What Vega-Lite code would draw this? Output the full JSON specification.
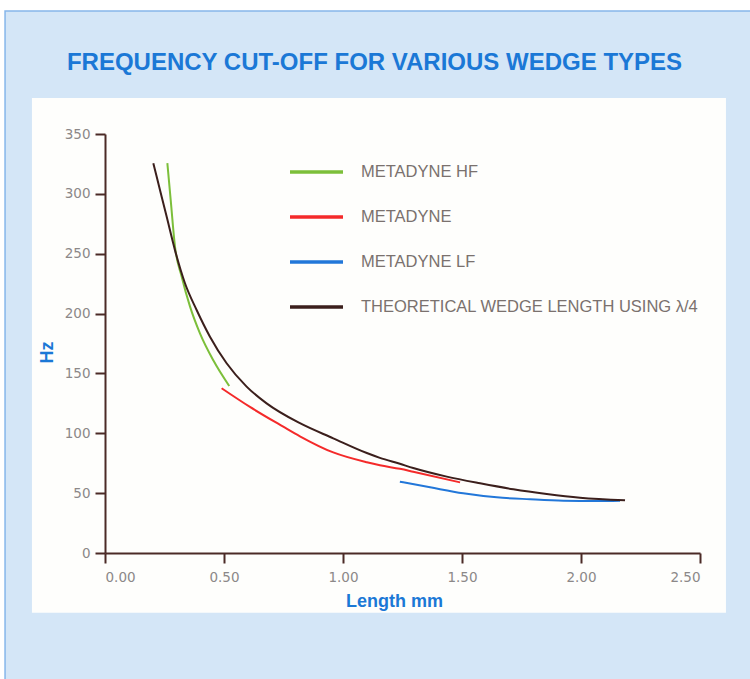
{
  "$schema": "https://vega.github.io/schema/vega-lite/v6.json",
  "width": 595,
  "height": 419,
  "autosize": "none",
  "padding": {"left": 105, "top": 134, "right": 50, "bottom": 126},
  "background": "#ffffff",
  "title": {
    "text": "FREQUENCY CUT-OFF FOR VARIOUS WEDGE TYPES",
    "font": "Liberation Sans",
    "fontWeight": "bold",
    "fontSize": 24,
    "color": "#1b78d6",
    "anchor": "middle",
    "frame": "group",
    "dx": -28,
    "offset": 26,
    "dy": 110,
    "baseline": "alphabetic",
    "zindex": 2
  },
  "config": {
    "view": {"stroke": null},
    "axis": {
      "domainColor": "#4b2a26",
      "domainWidth": 2,
      "tickColor": "#4b2a26",
      "tickWidth": 2,
      "tickSize": 10,
      "grid": false,
      "labelColor": "#8c8888",
      "labelFont": "DejaVu Sans",
      "labelFontSize": 13.5,
      "titleColor": "#1b78d6",
      "titleFont": "Liberation Sans",
      "titleFontWeight": "bold",
      "titleFontSize": 18
    },
    "legend": {"zindex": 2}
  },
  "data": {
    "values": [
      {"series": "METADYNE HF", "L": 0.262, "Hz": 325.6},
      {"series": "METADYNE HF", "L": 0.276, "Hz": 295},
      {"series": "METADYNE HF", "L": 0.294, "Hz": 256},
      {"series": "METADYNE HF", "L": 0.322, "Hz": 231},
      {"series": "METADYNE HF", "L": 0.357, "Hz": 206},
      {"series": "METADYNE HF", "L": 0.399, "Hz": 183.5},
      {"series": "METADYNE HF", "L": 0.455, "Hz": 161},
      {"series": "METADYNE HF", "L": 0.522, "Hz": 139.5},
      {"series": "METADYNE", "L": 0.49, "Hz": 137.6},
      {"series": "METADYNE", "L": 0.609, "Hz": 122},
      {"series": "METADYNE", "L": 0.749, "Hz": 105.5},
      {"series": "METADYNE", "L": 0.819, "Hz": 97.5},
      {"series": "METADYNE", "L": 0.959, "Hz": 84},
      {"series": "METADYNE", "L": 1.1, "Hz": 75.8},
      {"series": "METADYNE", "L": 1.155, "Hz": 73.3},
      {"series": "METADYNE", "L": 1.239, "Hz": 70.3},
      {"series": "METADYNE", "L": 1.295, "Hz": 67.9},
      {"series": "METADYNE", "L": 1.492, "Hz": 59},
      {"series": "METADYNE LF", "L": 1.239, "Hz": 59.6},
      {"series": "METADYNE LF", "L": 1.366, "Hz": 54.9},
      {"series": "METADYNE LF", "L": 1.505, "Hz": 49.9},
      {"series": "METADYNE LF", "L": 1.646, "Hz": 46.5},
      {"series": "METADYNE LF", "L": 1.786, "Hz": 44.9},
      {"series": "METADYNE LF", "L": 1.926, "Hz": 43.7},
      {"series": "METADYNE LF", "L": 2.066, "Hz": 43.4},
      {"series": "METADYNE LF", "L": 2.164, "Hz": 43.7},
      {"series": "THEORETICAL WEDGE LENGTH USING λ/4", "L": 0.203, "Hz": 325.6},
      {"series": "THEORETICAL WEDGE LENGTH USING λ/4", "L": 0.231, "Hz": 303.3},
      {"series": "THEORETICAL WEDGE LENGTH USING λ/4", "L": 0.259, "Hz": 281},
      {"series": "THEORETICAL WEDGE LENGTH USING λ/4", "L": 0.294, "Hz": 253},
      {"series": "THEORETICAL WEDGE LENGTH USING λ/4", "L": 0.336, "Hz": 225.3},
      {"series": "THEORETICAL WEDGE LENGTH USING λ/4", "L": 0.385, "Hz": 203},
      {"series": "THEORETICAL WEDGE LENGTH USING λ/4", "L": 0.441, "Hz": 180.7},
      {"series": "THEORETICAL WEDGE LENGTH USING λ/4", "L": 0.511, "Hz": 158.5},
      {"series": "THEORETICAL WEDGE LENGTH USING λ/4", "L": 0.595, "Hz": 139},
      {"series": "THEORETICAL WEDGE LENGTH USING λ/4", "L": 0.679, "Hz": 125},
      {"series": "THEORETICAL WEDGE LENGTH USING λ/4", "L": 0.819, "Hz": 108.4},
      {"series": "THEORETICAL WEDGE LENGTH USING λ/4", "L": 0.959, "Hz": 95.8},
      {"series": "THEORETICAL WEDGE LENGTH USING λ/4", "L": 1.1, "Hz": 83.5},
      {"series": "THEORETICAL WEDGE LENGTH USING λ/4", "L": 1.155, "Hz": 79.5},
      {"series": "THEORETICAL WEDGE LENGTH USING λ/4", "L": 1.239, "Hz": 74.5},
      {"series": "THEORETICAL WEDGE LENGTH USING λ/4", "L": 1.295, "Hz": 71},
      {"series": "THEORETICAL WEDGE LENGTH USING λ/4", "L": 1.436, "Hz": 63.8},
      {"series": "THEORETICAL WEDGE LENGTH USING λ/4", "L": 1.576, "Hz": 58.2},
      {"series": "THEORETICAL WEDGE LENGTH USING λ/4", "L": 1.716, "Hz": 53.2},
      {"series": "THEORETICAL WEDGE LENGTH USING λ/4", "L": 1.856, "Hz": 49.3},
      {"series": "THEORETICAL WEDGE LENGTH USING λ/4", "L": 1.996, "Hz": 46.2},
      {"series": "THEORETICAL WEDGE LENGTH USING λ/4", "L": 2.185, "Hz": 44}
    ]
  },
  "layer": [
    {
      "data": {"values": [{}]},
      "mark": {"type": "rect", "fill": "#d4e6f7", "stroke": "#86b6ea", "strokeWidth": 1.5},
      "encoding": {
        "x": {"datum": -0.42, "type": "quantitative", "scale": {"domain": [0, 2.5], "nice": false, "zero": false}},
        "x2": {"datum": 2.76},
        "y": {"datum": 452.8, "type": "quantitative", "scale": {"domain": [0, 350], "nice": false, "zero": false}},
        "y2": {"datum": -115}
      }
    },
    {
      "data": {"values": [{}]},
      "mark": {"type": "rect", "fill": "#fefefc"},
      "encoding": {
        "x": {"datum": -0.307, "type": "quantitative"},
        "x2": {"datum": 2.609},
        "y": {"datum": 380, "type": "quantitative"},
        "y2": {"datum": -50}
      }
    },
    {
      "mark": {"type": "line", "strokeWidth": 2, "interpolate": "monotone"},
      "encoding": {
        "x": {
          "field": "L",
          "type": "quantitative",
          "scale": {"domain": [0, 2.5], "nice": false, "zero": false},
          "axis": {
            "zindex": 2,
            "title": "Length mm",
            "values": [0, 0.5, 1, 1.5, 2, 2.5],
            "format": ".2f",
            "labelPadding": 7,
            "titleX": 289,
            "titleY": 53,
            "titleAlign": "center",
            "titleBaseline": "alphabetic"
          }
        },
        "y": {
          "field": "Hz",
          "type": "quantitative",
          "scale": {"domain": [0, 350], "nice": false, "zero": false},
          "axis": {
            "zindex": 2,
            "title": "Hz",
            "values": [0, 50, 100, 150, 200, 250, 300, 350],
            "labelPadding": 5,
            "titleX": -53,
            "titleY": 218,
            "titleAngle": -90,
            "titleAlign": "center",
            "titleBaseline": "alphabetic"
          }
        },
        "color": {
          "field": "series",
          "type": "nominal",
          "scale": {
            "domain": ["METADYNE HF", "METADYNE", "METADYNE LF", "THEORETICAL WEDGE LENGTH USING λ/4"],
            "range": ["#7cbf3a", "#f42a2a", "#2277d9", "#3b1f1c"]
          },
          "legend": {
            "title": null,
            "orient": "none",
            "legendX": 183,
            "legendY": 9.5,
            "direction": "vertical",
            "symbolType": "stroke",
            "symbolSize": 2809,
            "symbolStrokeWidth": 3.5,
            "labelFont": "Liberation Sans",
            "labelFontSize": 16.5,
            "labelColor": "#7a716e",
            "labelOffset": 16,
            "labelLimit": 400,
            "rowPadding": 8
          }
        }
      }
    }
  ]
}
